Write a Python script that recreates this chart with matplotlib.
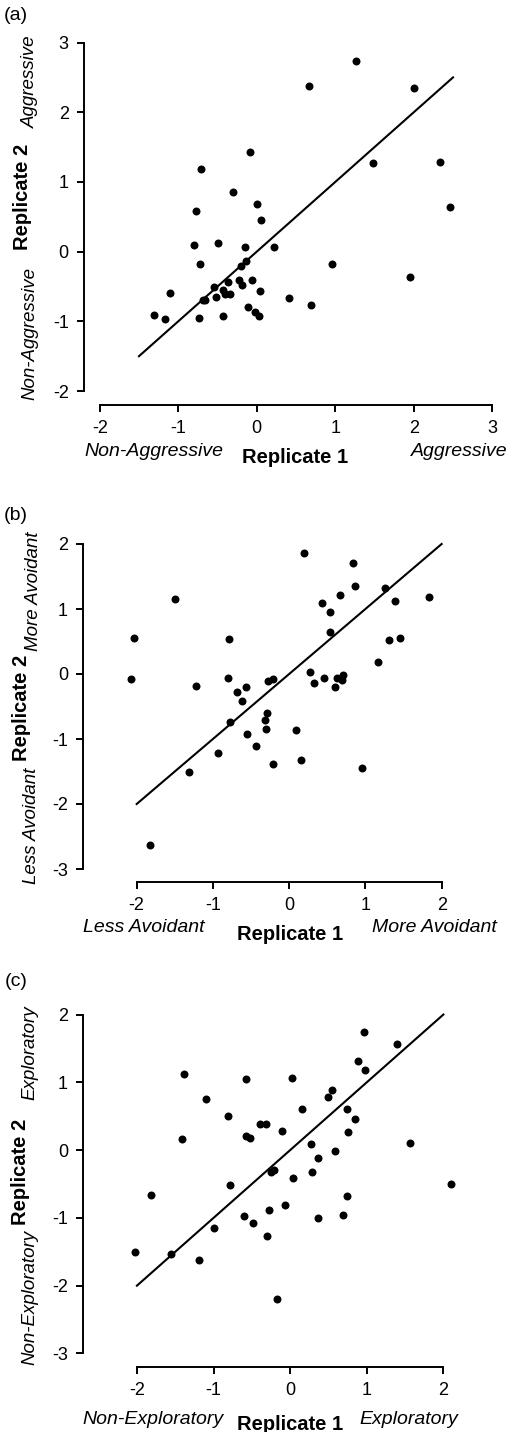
import matplotlib
matplotlib.use("Agg")
import matplotlib.pyplot as plt
import numpy as np

plt.rcParams['font.family'] = ['Liberation Sans', 'DejaVu Sans']

# (a) aggression
agg_x = [1.26, 0.66, 2.00, -0.08, 1.48, 2.34, -0.71, -0.30, 0.00, -0.77, 0.06, 2.46,
         -0.80, -0.49, -0.15, 0.22, -0.72, -0.14, -0.20, 0.96, 1.95, -0.55, -0.36,
         -0.23, -0.19, -0.06, 0.04, -0.43, -0.52, -0.40, -0.34, 0.41, -0.66, -0.69,
         -1.11, -1.31, -1.17, -0.74, -0.43, -0.11, -0.02, 0.03, 0.69]
agg_y = [2.74, 2.37, 2.35, 1.43, 1.27, 1.28, 1.18, 0.85, 0.69, 0.58, 0.46, 0.64,
         0.10, 0.12, 0.07, 0.06, -0.18, -0.14, -0.20, -0.17, -0.37, -0.50, -0.43,
         -0.40, -0.48, -0.40, -0.57, -0.55, -0.65, -0.61, -0.61, -0.66, -0.70, -0.69,
         -0.60, -0.91, -0.97, -0.95, -0.92, -0.79, -0.86, -0.92, -0.77]

# (b) avoidance
avo_x = [0.19, 0.84, 0.87, 1.26, -1.50, 1.83, 0.67, 1.39, 0.43, 0.54, 0.53, -2.03,
         -0.79, 1.31, 1.45, 1.17, -2.08, 0.27, -0.80, 0.46, 0.70, 0.63, 0.69, -0.21,
         -0.28, 0.32, 0.60, -1.22, -0.57, -0.69, -0.62, -0.29, -0.32, -0.77, -0.31,
         0.09, -0.55, -0.43, -0.93, 0.15, -0.21, 0.96, -1.32, -1.82]
avo_y = [1.86, 1.71, 1.35, 1.33, 1.16, 1.18, 1.22, 1.13, 1.10, 0.96, 0.65, 0.56,
         0.54, 0.53, 0.56, 0.18, -0.08, 0.03, -0.06, -0.06, -0.01, -0.06, -0.09, -0.07,
         -0.11, -0.14, -0.20, -0.18, -0.20, -0.27, -0.41, -0.60, -0.71, -0.74, -0.85,
         -0.86, -0.93, -1.11, -1.22, -1.33, -1.39, -1.44, -1.51, -2.63]

# (c) exploration
exp_x = [0.96, 1.39, 0.88, 0.98, -1.39, -0.57, 0.03, 0.54, 0.49, -1.10, 0.16, 0.74,
         -0.81, 0.85, -0.39, -0.32, -0.10, 0.76, -0.57, -0.52, -1.41, 1.57, 0.27,
         0.58, 0.37, -0.21, -0.25, 0.29, 0.04, -0.78, 2.10, -1.81, 0.74, -0.07,
         -0.28, -0.60, 0.69, 0.37, -0.48, -1.00, -0.30, -2.03, -1.56, -1.19, -0.17]
exp_y = [1.75, 1.56, 1.32, 1.18, 1.13, 1.05, 1.06, 0.89, 0.78, 0.75, 0.61, 0.60,
         0.50, 0.46, 0.39, 0.39, 0.28, 0.27, 0.21, 0.18, 0.16, 0.11, 0.09,
         -0.02, -0.12, -0.29, -0.33, -0.33, -0.41, -0.51, -0.50, -0.66, -0.68, -0.81,
         -0.88, -0.97, -0.96, -1.00, -1.07, -1.15, -1.26, -1.51, -1.53, -1.62, -2.19]

W, H = 509, 1432
fig = plt.figure(figsize=(W / 100, H / 100), dpi=100)


def px_axes(l, t, r, b):
    return fig.add_axes([l / W, 1 - b / H, (r - l) / W, (b - t) / H])


def txt(x, y, s, **kw):
    fig.text(x / W, 1 - y / H, s, ha='center', va='center', **kw)


panels = [
    dict(x=agg_x, y=agg_y, box=(84, 28.6, 508, 405), xlim=(-2.2, 3.2), ylim=(-2.2, 3.2),
         xt=[-2, -1, 0, 1, 2, 3], yt=[-2, -1, 0, 1, 2, 3], line=(-1.5, 2.5),
         tag='(a)', tag_y=15, lo='Non-Aggressive', hi='Aggressive',
         xl=[(154, 451), (295, 458), (459, 451)],
         yl=[(30, 333), (23, 197), (30, 82)]),
    dict(x=avo_x, y=avo_y, box=(83.3, 531, 495, 882), xlim=(-2.7, 2.7), ylim=(-3.2, 2.2),
         xt=[-2, -1, 0, 1, 2], yt=[-3, -2, -1, 0, 1, 2], line=(-2, 2),
         tag='(b)', tag_y=516, lo='Less Avoidant', hi='More Avoidant',
         xl=[(144, 928), (290, 935), (434, 928)],
         yl=[(31, 826), (22, 708), (33, 591)]),
    dict(x=exp_x, y=exp_y, box=(83.3, 1001, 497, 1367), xlim=(-2.7, 2.7), ylim=(-3.2, 2.2),
         xt=[-2, -1, 0, 1, 2], yt=[-3, -2, -1, 0, 1, 2], line=(-2, 2),
         tag='(c)', tag_y=982, lo='Non-Exploratory', hi='Exploratory',
         xl=[(153, 1419), (290, 1424), (409, 1419)],
         yl=[(30, 1297), (21, 1172), (30, 1053)]),
]

for p in panels:
    ax = px_axes(*p['box'])
    ax.scatter(p['x'], p['y'], s=33, color='black', linewidths=0, zorder=3)
    ax.plot(p['line'], p['line'], color='black', lw=1.5)
    ax.set_xlim(*p['xlim'])
    ax.set_ylim(*p['ylim'])
    ax.set_xticks(p['xt'])
    ax.set_yticks(p['yt'])
    ax.set_xticklabels([str(v) for v in p['xt']], fontsize=13)
    ax.set_yticklabels([str(v) for v in p['yt']], fontsize=13)
    ax.spines['top'].set_visible(False)
    ax.spines['right'].set_visible(False)
    ax.spines['left'].set_bounds(p['yt'][0], p['yt'][-1])
    ax.spines['bottom'].set_bounds(p['xt'][0], p['xt'][-1])
    for s in ('left', 'bottom'):
        ax.spines[s].set_linewidth(1.4)
    ax.tick_params(width=1.4, length=5, pad=6)
    ax.patch.set_visible(False)

    txt(16, p['tag_y'], p['tag'], fontsize=14)
    (lx, ly), (cx, cy), (hx, hy) = p['xl']
    txt(lx, ly, p['lo'], fontsize=14, style='italic')
    txt(cx, cy, 'Replicate 1', fontsize=14.5, weight='bold')
    txt(hx, hy, p['hi'], fontsize=14, style='italic')
    (lx, ly), (cx, cy), (hx, hy) = p['yl']
    txt(lx, ly, p['lo'], fontsize=13.5, style='italic', rotation=90)
    txt(cx, cy, 'Replicate 2', fontsize=14.5, weight='bold', rotation=90)
    txt(hx, hy, p['hi'], fontsize=13.5, style='italic', rotation=90)

fig.savefig('out.png', dpi=100)
